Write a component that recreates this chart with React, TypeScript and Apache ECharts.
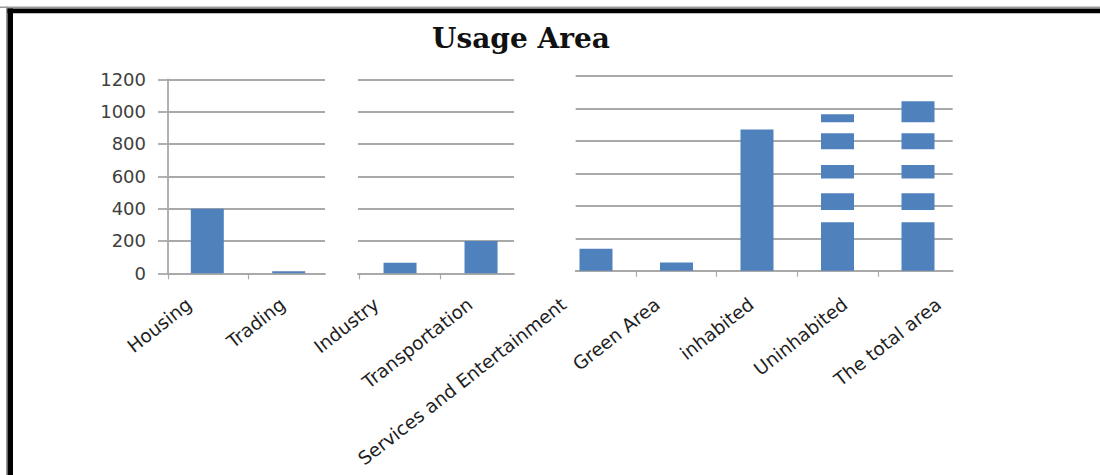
import React, { useEffect, useRef } from "react";
import * as echarts from "echarts";

// Land-use categories and their areas
const categories = [
  "Housing",
  "Trading",
  "Industry",
  "Transportation",
  "Services and Entertainment",
  "Green Area",
  "inhabited",
  "Uninhabited",
  "The total area",
];
const areaValues = [400, 12, 65, 200, 135, 50, 870, 965, 1045];

// Which categories sit in each of the three plot panels
const panelMembers = [
  [0, 1],
  [2, 3],
  [4, 5, 6, 7, 8],
];

// Value-axis tick labels
const yTickLabels = [0, 200, 400, 600, 800, 1000, 1200];

// Horizontal bands (in axis units) where the last two bars are broken up
const bandBreaks = [
  [298, 374],
  [477, 569],
  [651, 748],
  [847, 915],
];

const GRID_COLOR = "#a9a9a9";
const BAR_COLOR = "#4F81BD";

const panels = [
  { left: 168, right: 325, top: 79.3, bottom: 273.3, min: -0.483, max: 1.446, ticks: [-0.483, 0.5], showY: true },
  { left: 358, right: 514, top: 79.3, bottom: 273.3, min: -0.519, max: 1.407, ticks: [-0.5, 0.5], showY: false },
  { left: 575.7, right: 952.7, top: 76, bottom: 270.7, min: -0.252, max: 4.431, ticks: [0.5, 1.5, 2.5, 3.5], showY: false },
];

export default function App() {
  const ref = useRef<HTMLDivElement>(null);

  useEffect(() => {
    if (!ref.current) return;
    const chart = echarts.init(ref.current, null, { renderer: "svg" });

    const grids: any[] = panels.map((p) => ({
      left: p.left,
      top: p.top,
      width: p.right - p.left,
      height: p.bottom - p.top,
      containLabel: false,
    }));
    // label strip spanning all categories
    const labelStep = 93.7;
    const firstCenter = 189;
    grids.push({
      left: firstCenter - labelStep / 2,
      top: 76,
      width: labelStep * categories.length,
      height: 197,
    });

    const xAxes: any[] = panels.map((p, i) => ({
      type: "value",
      gridIndex: i,
      min: p.min,
      max: p.max,
      axisLine: { show: true, onZero: false, lineStyle: { color: GRID_COLOR, width: 1.8 } },
      axisTick: {
        show: true,
        customValues: p.ticks,
        length: 6,
        lineStyle: { color: GRID_COLOR, width: 1.2 },
      },
      axisLabel: { show: false },
      splitLine: { show: false },
    }));
    xAxes.push({
      type: "category",
      gridIndex: 3,
      data: categories,
      boundaryGap: true,
      axisLine: { show: false },
      axisTick: { show: false },
      splitLine: { show: false },
      axisLabel: {
        interval: 0,
        rotate: 38,
        margin: 29,
        fontFamily: "DejaVu Sans",
        fontSize: 18.5,
        color: "#1e1e1e",
      },
    });

    const yAxes: any[] = panels.map((p, i) => ({
      type: "value",
      gridIndex: i,
      min: yTickLabels[0],
      max: yTickLabels[yTickLabels.length - 1],
      interval: yTickLabels[1] - yTickLabels[0],
      axisLine: { show: p.showY, onZero: false, lineStyle: { color: GRID_COLOR, width: 1.8 } },
      axisTick: { show: p.showY, inside: false, length: 10, lineStyle: { color: GRID_COLOR, width: 1.8 } },
      axisLabel: {
        show: p.showY,
        margin: 22,
        fontFamily: "DejaVu Sans",
        fontSize: 18,
        color: "#404040",
        formatter: (v: number) => String(v),
      },
      splitLine: { show: true, lineStyle: { color: GRID_COLOR, width: 1.8 } },
    }));
    yAxes.push({ type: "value", gridIndex: 3, show: false });

    const series: any[] = panelMembers.map((members, i) => ({
      type: "bar",
      xAxisIndex: i,
      yAxisIndex: i,
      barWidth: 33,
      itemStyle: { color: BAR_COLOR },
      data: members.map((c, k) => [k, areaValues[c]]),
    }));

    const frame = [
      { type: "rect", shape: { x: 0, y: 6.5, width: 1100, height: 1.5 }, style: { fill: "#9a9a9a" }, silent: true },
      { type: "rect", shape: { x: 6, y: 6.5, width: 1.5, height: 470 }, style: { fill: "#9a9a9a" }, silent: true },
      { type: "rect", shape: { x: 7.5, y: 8.5, width: 1100, height: 4.8 }, style: { fill: "#000" }, silent: true },
      { type: "rect", shape: { x: 7.5, y: 8.5, width: 5.5, height: 470 }, style: { fill: "#000" }, silent: true },
      {
        type: "text",
        x: 521,
        y: 24,
        style: {
          text: "Usage Area",
          font: "bold 28px 'DejaVu Serif'",
          fill: "#111",
          textAlign: "center",
        },
        silent: true,
      },
    ];

    chart.setOption({
      animation: false,
      backgroundColor: "#fff",
      grid: grids,
      xAxis: xAxes,
      yAxis: yAxes,
      series,
      graphic: frame,
    });

    // white breaks across the last two bars of the third panel
    const finder = { xAxisIndex: 2, yAxisIndex: 2 };
    const breaks = bandBreaks.map(([lo, hi]) => {
      const a = chart.convertToPixel(finder, [2.6, hi]) as number[];
      const b = chart.convertToPixel(finder, [4.4, lo]) as number[];
      return {
        type: "rect",
        shape: { x: a[0], y: a[1], width: b[0] - a[0], height: b[1] - a[1] },
        style: { fill: "#fff" },
        z: 100,
        silent: true,
      };
    });
    chart.setOption({ graphic: [...frame, ...breaks] });

    return () => chart.dispose();
  }, []);

  return (
    <div
      ref={ref}
      style={{ position: "fixed", left: 0, top: 0, width: 1100, height: 475 }}
    />
  );
}
